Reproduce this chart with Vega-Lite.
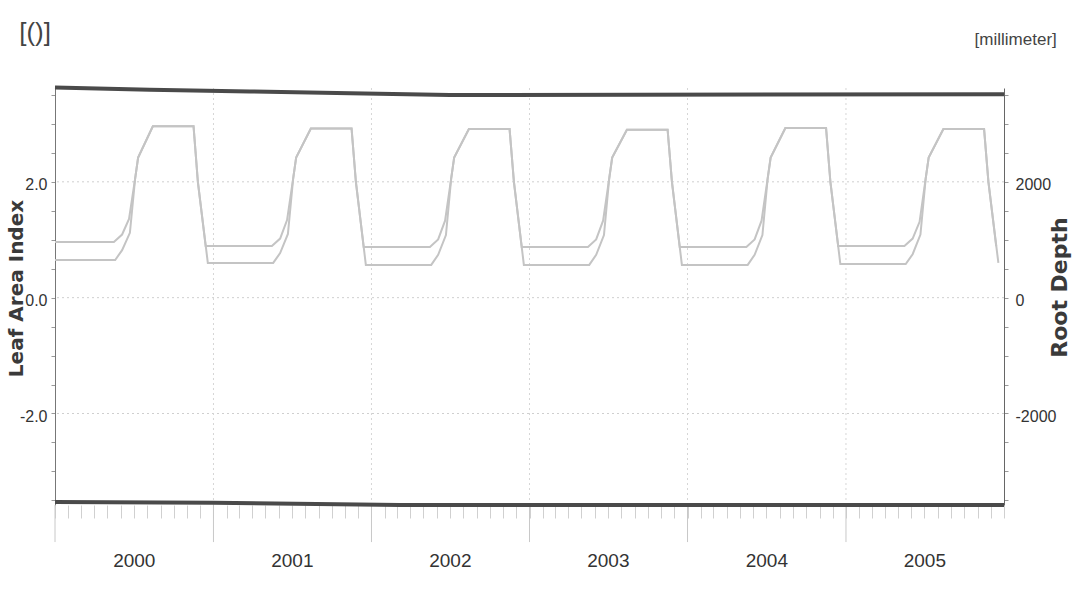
{
  "$schema": "https://vega.github.io/schema/vega-lite/v6.json",
  "width": 949,
  "height": 417,
  "autosize": {"type": "none"},
  "padding": {"left": 55, "top": 88, "right": 76, "bottom": 87},
  "background": "white",
  "config": {"view": {"stroke": null}},
  "datasets": {
    "gridLevels": [{"level": -2}, {"level": 0}, {"level": 2}],
    "yearStarts": [
      {"date": "2000-01-01", "inner": false},
      {"date": "2001-01-01", "inner": true},
      {"date": "2002-01-01", "inner": true},
      {"date": "2003-01-01", "inner": true},
      {"date": "2004-01-01", "inner": true},
      {"date": "2005-01-01", "inner": true}
    ],
    "frameLines": [
      {"date": "2000-01-01", "edge": "top", "value": 3.63},
      {"date": "2000-08-07", "edge": "top", "value": 3.59},
      {"date": "2001-03-26", "edge": "top", "value": 3.56},
      {"date": "2001-11-13", "edge": "top", "value": 3.53},
      {"date": "2002-07-01", "edge": "top", "value": 3.5},
      {"date": "2006-01-01", "edge": "top", "value": 3.51},
      {"date": "2000-01-01", "edge": "bottom", "value": -3.53},
      {"date": "2001-01-01", "edge": "bottom", "value": -3.54},
      {"date": "2002-03-08", "edge": "bottom", "value": -3.58},
      {"date": "2006-01-01", "edge": "bottom", "value": -3.58}
    ],
    "laiData": [
      {"date": "2000-01-01", "value": 0.65},
      {"date": "2000-05-19", "value": 0.65},
      {"date": "2000-06-04", "value": 0.82},
      {"date": "2000-06-22", "value": 1.12},
      {"date": "2000-07-04", "value": 2.05},
      {"date": "2000-07-11", "value": 2.42},
      {"date": "2000-08-14", "value": 2.96},
      {"date": "2000-11-16", "value": 2.96},
      {"date": "2000-11-26", "value": 2.0},
      {"date": "2000-12-19", "value": 0.6},
      {"date": "2001-05-19", "value": 0.6},
      {"date": "2001-06-04", "value": 0.77},
      {"date": "2001-06-22", "value": 1.1},
      {"date": "2001-07-04", "value": 2.05},
      {"date": "2001-07-11", "value": 2.42},
      {"date": "2001-08-14", "value": 2.92},
      {"date": "2001-11-16", "value": 2.92},
      {"date": "2001-11-26", "value": 2.0},
      {"date": "2001-12-19", "value": 0.565},
      {"date": "2002-05-19", "value": 0.565},
      {"date": "2002-06-04", "value": 0.74},
      {"date": "2002-06-22", "value": 1.08},
      {"date": "2002-07-04", "value": 2.05},
      {"date": "2002-07-11", "value": 2.42},
      {"date": "2002-08-14", "value": 2.91},
      {"date": "2002-11-16", "value": 2.91},
      {"date": "2002-11-26", "value": 2.0},
      {"date": "2002-12-19", "value": 0.565},
      {"date": "2003-05-19", "value": 0.565},
      {"date": "2003-06-04", "value": 0.74},
      {"date": "2003-06-22", "value": 1.08},
      {"date": "2003-07-04", "value": 2.05},
      {"date": "2003-07-11", "value": 2.42},
      {"date": "2003-08-14", "value": 2.9},
      {"date": "2003-11-16", "value": 2.9},
      {"date": "2003-11-26", "value": 2.0},
      {"date": "2003-12-19", "value": 0.565},
      {"date": "2004-05-19", "value": 0.565},
      {"date": "2004-06-04", "value": 0.74},
      {"date": "2004-06-22", "value": 1.08},
      {"date": "2004-07-04", "value": 2.05},
      {"date": "2004-07-11", "value": 2.42},
      {"date": "2004-08-14", "value": 2.93},
      {"date": "2004-11-16", "value": 2.93},
      {"date": "2004-11-26", "value": 2.0},
      {"date": "2004-12-19", "value": 0.58},
      {"date": "2005-05-19", "value": 0.58},
      {"date": "2005-06-04", "value": 0.75},
      {"date": "2005-06-22", "value": 1.09},
      {"date": "2005-07-04", "value": 2.05},
      {"date": "2005-07-11", "value": 2.42},
      {"date": "2005-08-14", "value": 2.91},
      {"date": "2005-11-16", "value": 2.91},
      {"date": "2005-11-26", "value": 2.0},
      {"date": "2005-12-19", "value": 0.6}
    ],
    "rootDepthData": [
      {"date": "2000-01-01", "value": 960},
      {"date": "2000-05-16", "value": 960},
      {"date": "2000-06-04", "value": 1090},
      {"date": "2000-06-20", "value": 1360},
      {"date": "2000-07-04", "value": 2050},
      {"date": "2000-07-11", "value": 2420},
      {"date": "2000-08-14", "value": 2960},
      {"date": "2000-11-16", "value": 2960},
      {"date": "2000-11-26", "value": 2000},
      {"date": "2000-12-14", "value": 890},
      {"date": "2001-05-16", "value": 890},
      {"date": "2001-06-04", "value": 1020},
      {"date": "2001-06-20", "value": 1340},
      {"date": "2001-07-04", "value": 2050},
      {"date": "2001-07-11", "value": 2420},
      {"date": "2001-08-14", "value": 2920},
      {"date": "2001-11-16", "value": 2920},
      {"date": "2001-11-26", "value": 2000},
      {"date": "2001-12-14", "value": 875},
      {"date": "2002-05-16", "value": 875},
      {"date": "2002-06-04", "value": 1005},
      {"date": "2002-06-20", "value": 1330},
      {"date": "2002-07-04", "value": 2050},
      {"date": "2002-07-11", "value": 2420},
      {"date": "2002-08-14", "value": 2910},
      {"date": "2002-11-16", "value": 2910},
      {"date": "2002-11-26", "value": 2000},
      {"date": "2002-12-14", "value": 875},
      {"date": "2003-05-16", "value": 875},
      {"date": "2003-06-04", "value": 1005},
      {"date": "2003-06-20", "value": 1330},
      {"date": "2003-07-04", "value": 2050},
      {"date": "2003-07-11", "value": 2420},
      {"date": "2003-08-14", "value": 2900},
      {"date": "2003-11-16", "value": 2900},
      {"date": "2003-11-26", "value": 2000},
      {"date": "2003-12-14", "value": 875},
      {"date": "2004-05-16", "value": 875},
      {"date": "2004-06-04", "value": 1005},
      {"date": "2004-06-20", "value": 1330},
      {"date": "2004-07-04", "value": 2050},
      {"date": "2004-07-11", "value": 2420},
      {"date": "2004-08-14", "value": 2930},
      {"date": "2004-11-16", "value": 2930},
      {"date": "2004-11-26", "value": 2000},
      {"date": "2004-12-14", "value": 890},
      {"date": "2005-05-16", "value": 890},
      {"date": "2005-06-04", "value": 1020},
      {"date": "2005-06-20", "value": 1310},
      {"date": "2005-07-04", "value": 2050},
      {"date": "2005-07-11", "value": 2420},
      {"date": "2005-08-14", "value": 2910},
      {"date": "2005-11-16", "value": 2910},
      {"date": "2005-11-26", "value": 2000},
      {"date": "2005-12-14", "value": 890}
    ],
    "unitLabels": [
      {"label": "[()]", "side": "left"},
      {"label": "[millimeter]", "side": "right"}
    ]
  },
  "layer": [
    {
      "data": {"name": "gridLevels"},
      "mark": {"type": "rule", "color": "#cfcfcf", "strokeWidth": 1, "strokeDash": [2, 3]},
      "encoding": {
        "y": {"field": "level", "type": "quantitative", "scale": {"domain": [-3.58, 3.62], "nice": false, "zero": false}, "axis": null}
      }
    },
    {
      "data": {"name": "yearStarts"},
      "transform": [{"filter": "datum.inner"}],
      "mark": {"type": "rule", "color": "#d6d6d6", "strokeWidth": 1, "strokeDash": [2, 3]},
      "encoding": {
        "x": {"field": "date", "type": "temporal", "axis": null}
      }
    },
    {
      "data": {"name": "yearStarts"},
      "mark": {"type": "rule", "color": "#c8c8c8", "strokeWidth": 1, "clip": false},
      "encoding": {
        "x": {"field": "date", "type": "temporal", "axis": null},
        "y": {"datum": -3.58, "type": "quantitative", "scale": {"domain": [-3.58, 3.62], "nice": false, "zero": false}, "axis": null},
        "y2": {"datum": -4.22}
      }
    },
    {
      "data": {"name": "laiData"},
      "mark": {"type": "line", "color": "#c4c4c4", "strokeWidth": 2},
      "encoding": {
        "x": {
          "field": "date", "type": "temporal",
          "scale": {"type": "utc", "domain": [{"year": 2000, "month": 1, "date": 1, "utc": true}, {"year": 2006, "month": 1, "date": 1, "utc": true}]},
          "axis": {
            "title": null,
            "domain": false,
            "grid": false,
            "tickCount": {"interval": "month", "step": 1},
            "tickColor": "#d0d0d0",
            "tickWidth": 1,
            "tickSize": 13,
            "labelExpr": "utcmonth(datum.value) == 6 ? utcFormat(datum.value, '%Y') : ''",
            "labelOverlap": false,
            "labelFlush": false,
            "labelFont": "Liberation Sans",
            "labelFontSize": 19,
            "labelColor": "#333333",
            "labelPadding": 33
          }
        },
        "y": {
          "field": "value", "type": "quantitative",
          "scale": {"domain": [-3.58, 3.62], "nice": false, "zero": false},
          "axis": {
            "orient": "left",
            "values": [-3.5, -3, -2.5, -2, -1.5, -1, -0.5, 0, 0.5, 1, 1.5, 2, 2.5, 3, 3.5],
            "labelExpr": "datum.value == 2 ? '2.0' : datum.value == 0 ? '0.0' : datum.value == -2 ? '-2.0' : ''",
            "labelOverlap": false,
            "labelFont": "Liberation Sans",
            "labelFontSize": 16,
            "labelColor": "#333333",
            "labelPadding": 4,
            "labelOffset": 3,
            "tickSize": 4,
            "tickColor": "#999999",
            "domain": true,
            "domainColor": "#777777",
            "domainWidth": 1,
            "grid": false,
            "title": "Leaf Area Index",
            "titleFont": "DejaVu Sans",
            "titleFontSize": 20,
            "titleFontWeight": "bold",
            "titleColor": "#3a3a3a",
            "titleAngle": 270,
            "titleAlign": "center",
            "titleBaseline": "alphabetic",
            "titleX": -33,
            "titleY": 200
          }
        }
      }
    },
    {
      "data": {"name": "rootDepthData"},
      "mark": {"type": "line", "color": "#c4c4c4", "strokeWidth": 2},
      "encoding": {
        "x": {"field": "date", "type": "temporal", "axis": null},
        "y": {
          "field": "value", "type": "quantitative",
          "scale": {"domain": [-3580, 3620], "nice": false, "zero": false},
          "axis": {
            "orient": "right",
            "values": [-3500, -3000, -2500, -2000, -1500, -1000, -500, 0, 500, 1000, 1500, 2000, 2500, 3000, 3500],
            "labelExpr": "datum.value == 2000 ? '2000' : datum.value == 0 ? '0' : datum.value == -2000 ? '-2000' : ''",
            "labelOverlap": false,
            "labelFont": "Liberation Sans",
            "labelFontSize": 16,
            "labelColor": "#333333",
            "labelPadding": 7,
            "labelOffset": 3,
            "tickSize": 4,
            "tickColor": "#999999",
            "domain": true,
            "domainColor": "#666666",
            "domainWidth": 1,
            "grid": false,
            "title": "Root Depth",
            "titleFont": "DejaVu Sans",
            "titleFontSize": 22,
            "titleFontWeight": "bold",
            "titleColor": "#3a3a3a",
            "titleAngle": 270,
            "titleAlign": "center",
            "titleBaseline": "alphabetic",
            "titleX": 62,
            "titleY": 199
          }
        }
      }
    },
    {
      "data": {"name": "frameLines"},
      "mark": {"type": "line", "color": "#4a4a4a", "strokeWidth": 4, "clip": false},
      "encoding": {
        "x": {"field": "date", "type": "temporal", "axis": null},
        "y": {"field": "value", "type": "quantitative", "scale": {"domain": [-3.58, 3.62], "nice": false, "zero": false}, "axis": null},
        "detail": {"field": "edge"}
      }
    },
    {
      "data": {"name": "unitLabels"},
      "transform": [{"filter": "datum.side == 'left'"}],
      "mark": {"type": "text", "font": "Liberation Sans", "fontSize": 26, "color": "#444444", "align": "center", "baseline": "middle", "clip": false},
      "encoding": {
        "x": {"datum": {"year": 1999, "month": 11, "date": 16, "utc": true}, "type": "temporal", "axis": null},
        "y": {"datum": 4.57, "type": "quantitative", "scale": {"domain": [-3.58, 3.62], "nice": false, "zero": false}, "axis": null},
        "text": {"field": "label"}
      }
    },
    {
      "data": {"name": "unitLabels"},
      "transform": [{"filter": "datum.side == 'right'"}],
      "mark": {"type": "text", "font": "Liberation Sans", "fontSize": 17, "color": "#444444", "align": "center", "baseline": "middle", "clip": false},
      "encoding": {
        "x": {"datum": {"year": 2006, "month": 1, "date": 28, "utc": true}, "type": "temporal", "axis": null},
        "y": {"datum": 4.45, "type": "quantitative", "scale": {"domain": [-3.58, 3.62], "nice": false, "zero": false}, "axis": null},
        "text": {"field": "label"}
      }
    }
  ],
  "resolve": {"scale": {"y": "independent"}, "axis": {"x": "independent", "y": "independent"}}
}
